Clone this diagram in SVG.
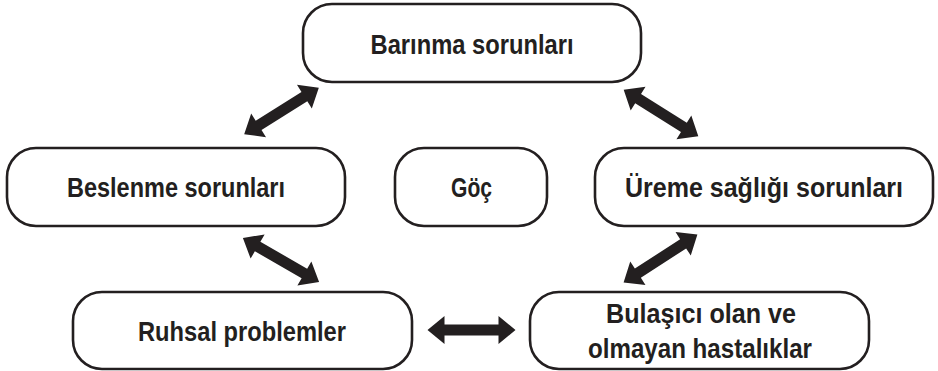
<svg xmlns="http://www.w3.org/2000/svg" xmlns:xlink="http://www.w3.org/1999/xlink" width="938" height="371" viewBox="0 0 938 371">
  <style>
    .box { fill: #ffffff; stroke: #231f20; stroke-width: 2.6; }
    .lbl { font-family: "Liberation Sans Narrow", "Liberation Sans", Arial, sans-serif; font-weight: bold; font-size: 28.5px; fill: #231f20; text-anchor: middle; }
    .arrow { fill: #231f20; }
  </style>
  <defs>
    <!-- double-headed block arrow, centred on the origin, pointing along x -->
    <path id="dbl" d="M-44,0 L-27,-14 L-27,-5.5 L27,-5.5 L27,-14 L44,0 L27,14 L27,5.5 L-27,5.5 L-27,14 Z"/>
  </defs>
  <rect width="938" height="371" fill="#ffffff"/>

  <g id="connectors" class="arrow">
    <use xlink:href="#dbl" transform="translate(281.5,111) rotate(-32)"/>
    <use xlink:href="#dbl" transform="translate(661,113) rotate(32)"/>
    <use xlink:href="#dbl" transform="translate(281,260) rotate(30)"/>
    <use xlink:href="#dbl" transform="translate(660.5,258.5) rotate(-33)"/>
    <use xlink:href="#dbl" transform="translate(471.5,330)"/>
  </g>

  <g id="barinma">
    <rect class="box" x="303" y="4" width="338" height="78" rx="29" ry="29"/>
    <text class="lbl" x="472" y="54" textLength="203" lengthAdjust="spacingAndGlyphs">Barınma sorunları</text>
  </g>

  <g id="beslenme">
    <rect class="box" x="7" y="148" width="338" height="78" rx="29" ry="29"/>
    <text class="lbl" x="176" y="197" textLength="218" lengthAdjust="spacingAndGlyphs">Beslenme sorunları</text>
  </g>

  <g id="goc">
    <rect class="box" x="395" y="148" width="152" height="78" rx="29" ry="29"/>
    <text class="lbl" x="471.5" y="197" textLength="41" lengthAdjust="spacingAndGlyphs">Göç</text>
  </g>

  <g id="ureme">
    <rect class="box" x="595" y="148" width="338" height="78" rx="29" ry="29"/>
    <text class="lbl" x="764" y="197" textLength="278" lengthAdjust="spacingAndGlyphs">Üreme sağlığı sorunları</text>
  </g>

  <g id="ruhsal">
    <rect class="box" x="73" y="292" width="339" height="77" rx="29" ry="29"/>
    <text class="lbl" x="242" y="341" textLength="208" lengthAdjust="spacingAndGlyphs">Ruhsal problemler</text>
  </g>

  <g id="bulasici">
    <rect class="box" x="530" y="292" width="339" height="77" rx="29" ry="29"/>
    <text class="lbl" x="701" y="323" textLength="190" lengthAdjust="spacingAndGlyphs">Bulaşıcı olan ve</text>
    <text class="lbl" x="700" y="358" textLength="224" lengthAdjust="spacingAndGlyphs">olmayan hastalıklar</text>
  </g>
</svg>
